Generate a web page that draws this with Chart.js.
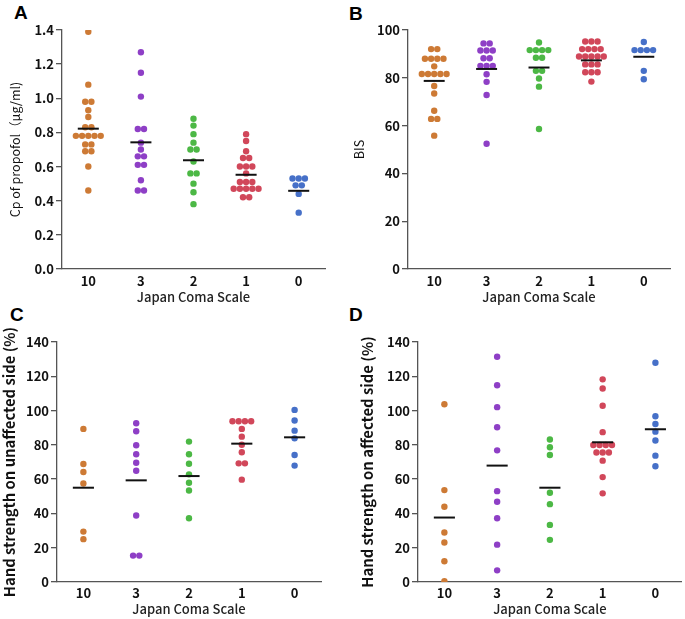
<!DOCTYPE html>
<html>
<head>
<meta charset="utf-8">
<script src="https://cdn.jsdelivr.net/npm/chart.js@4/dist/chart.umd.min.js"></script>
<style>
  body { margin: 0; background: #fff; width: 685px; height: 619px; position: relative; overflow: hidden; }
  canvas { position: absolute; }
  .tag { position: absolute; font: bold 19px "Liberation Sans", Arial, sans-serif; color: #000; line-height: 1; }
</style>
</head>
<body>
<div class="tag" style="left:14px;top:2.5px">A</div>
<div class="tag" style="left:349px;top:3.5px">B</div>
<div class="tag" style="left:10px;top:304.5px">C</div>
<div class="tag" style="left:349px;top:304.5px">D</div>
<canvas id="cpChart" width="342" height="310" style="left:0;top:0"></canvas>
<canvas id="bisChart" width="343" height="310" style="left:342px;top:0"></canvas>
<canvas id="unaffChart" width="342" height="309" style="left:0;top:310px"></canvas>
<canvas id="affChart" width="343" height="309" style="left:342px;top:310px"></canvas>
<script>
// Japan Coma Scale groups, left to right
const jcsLabels = ['10', '3', '2', '1', '0'];
const groupColors = ['#CD7A35', '#8E3FC6', '#4CB845', '#D1475A', '#4670C8'];

// A: Cp of propofol (ug/ml)
const cp10 = [1.39, 1.08, 0.98, 0.98, 0.93, 0.89, 0.83, 0.83, 0.78, 0.78, 0.78, 0.78, 0.78, 0.73, 0.73, 0.69, 0.69, 0.60, 0.46];
const cp3 = [1.27, 1.15, 1.01, 0.82, 0.82, 0.74, 0.70, 0.66, 0.66, 0.61, 0.61, 0.52, 0.46, 0.46];
const cp2 = [0.88, 0.84, 0.79, 0.74, 0.70, 0.70, 0.63, 0.56, 0.56, 0.50, 0.45, 0.38];
const cp1 = [0.79, 0.75, 0.69, 0.65, 0.65, 0.60, 0.60, 0.60, 0.56, 0.51, 0.51, 0.51, 0.47, 0.47, 0.47, 0.47, 0.47, 0.42, 0.42];
const cp0 = [0.53, 0.53, 0.53, 0.49, 0.49, 0.44, 0.33];
const cpMean = [0.822, 0.742, 0.637, 0.552, 0.458];

// B: BIS
const bis10 = [92, 92, 88, 88, 88, 88, 84.8, 81.6, 81.6, 81.6, 81.6, 81.6, 76.6, 73.4, 66.2, 62.8, 62.8, 55.8];
const bis3 = [94.4, 94.4, 91.4, 91.4, 91.4, 88.2, 88.2, 85, 85, 85, 81.5, 78.3, 72.8, 52.4];
const bis2 = [94.8, 91.6, 91.6, 91.6, 91.6, 88.4, 88.4, 82.9, 82.9, 79.7, 76.3, 58.6];
const bis1 = [95.2, 95.2, 95.2, 92, 92, 92, 92, 88.9, 88.9, 88.9, 88.9, 88.9, 85.6, 85.6, 85.6, 82.3, 82.3, 82.3, 78.4];
const bis0 = [95, 91.6, 91.6, 91.6, 91.6, 82.9, 79.4];
const bisMean = [78.7, 83.7, 84.3, 87.3, 88.8];

// C: hand strength on unaffected side (%)
const unaff10 = [89.3, 68.8, 64.2, 57.5, 29.4, 25.0];
const unaff3 = [92.6, 87.9, 79.8, 74.5, 69.6, 64.9, 38.8, 15.4, 15.4];
const unaff2 = [81.9, 74.5, 69.0, 62.8, 57.9, 53.4, 37.2];
const unaff1 = [93.8, 93.8, 93.8, 93.8, 89.3, 84.8, 80.1, 75.7, 69.2, 69.2, 59.7];
const unaff0 = [100.4, 94.2, 88.3, 83.8, 74.1, 67.9];
const unaffMean = [55.0, 59.3, 61.8, 80.7, 84.4];

// D: hand strength on affected side (%)
const aff10 = [103.7, 53.6, 43.9, 28.9, 23.0, 12.1, 0.4];
const aff3 = [131.4, 114.8, 102.0, 90.3, 76.8, 53.0, 46.8, 37.2, 21.8, 6.8];
const aff2 = [83.1, 78.6, 74.1, 52.1, 45.4, 33.3, 24.6];
const aff1 = [118.2, 112.9, 102.8, 87.4, 79.9, 79.9, 79.9, 79.9, 75.5, 75.5, 75.5, 70.8, 61.2, 51.7];
const aff0 = [127.9, 96.7, 92.2, 87.7, 82.5, 73.7, 67.5];
const affMean = [37.6, 67.9, 55.0, 81.5, 89.1];

const FONT = '"Noto Sans CJK JP", "Noto Sans", sans-serif';
const AXIS = '#555';
const DOT_STEP = 0.118;   // horizontal gap between tied dots, in category units

// put tied values side by side, centred on the group position
function swarm(values, i) {
  const counts = {};
  values.forEach(v => counts[v] = (counts[v] || 0) + 1);
  const seen = {};
  return values.map(v => {
    const n = counts[v];
    const k = seen[v] = (seen[v] || 0) + 1;
    return { x: i + (k - 1 - (n - 1) / 2) * DOT_STEP, y: v };
  });
}

// black mean bar over each group
const meanLines = {
  id: 'meanLines',
  afterDatasetsDraw(chart, args, opts) {
    const { ctx, scales: { x, y } } = chart;
    ctx.save();
    ctx.strokeStyle = '#111';
    ctx.lineWidth = 2;
    opts.means.forEach((m, i) => {
      const py = y.getPixelForValue(m);
      ctx.beginPath();
      ctx.moveTo(x.getPixelForValue(i - 0.2), py);
      ctx.lineTo(x.getPixelForValue(i + 0.2), py);
      ctx.stroke();
    });
    ctx.restore();
  }
};

function makePanel(p) {
  new Chart(document.getElementById(p.id), {
    type: 'scatter',
    data: {
      datasets: p.groups.map((vals, i) => ({
        data: swarm(vals, i),
        backgroundColor: groupColors[i],
        borderWidth: 0,
        pointRadius: 3.2,
        pointHoverRadius: 3.2
      }))
    },
    options: {
      responsive: false,
      animation: false,
      events: [],
      layout: { padding: { top: p.top, right: p.right, left: 0, bottom: 0 } },
      plugins: {
        legend: { display: false },
        tooltip: { enabled: false },
        meanLines: { means: p.means }
      },
      scales: {
        x: {
          type: 'linear',
          min: -0.5,
          max: 4.5,
          afterBuildTicks: s => { s.ticks = jcsLabels.map((l, i) => ({ value: i })); },
          afterFit: s => { s.height = p.xHeight; },
          grid: { display: false, drawTicks: false },
          border: { display: true, color: AXIS, width: 1.3 },
          ticks: {
            padding: p.tickPad,
            color: '#111',
            autoSkip: false,
            maxRotation: 0,
            font: { family: FONT, size: 13, weight: 'bold' },
            callback: v => jcsLabels[v]
          },
          title: {
            display: true,
            text: 'Japan Coma Scale',
            color: '#222',
            font: { family: FONT, size: 13, weight: '500' },
            padding: { top: 0, bottom: p.xTitlePad }
          }
        },
        y: {
          min: 0,
          max: p.max,
          afterFit: s => { s.width = p.yWidth; },
          grid: { display: true, drawOnChartArea: false, drawTicks: true, tickLength: 6, color: AXIS, lineWidth: 1.3 },
          border: { display: true, color: AXIS, width: 1.3 },
          ticks: {
            stepSize: p.step,
            padding: 2,
            color: '#111',
            font: { family: FONT, size: 13, weight: 'bold' },
            callback: v => v.toFixed(p.decimals)
          },
          title: {
            display: true,
            text: p.title,
            color: '#111',
            font: p.titleFont,
            padding: { top: p.yTitlePad, bottom: 0 }
          }
        }
      }
    },
    plugins: [meanLines]
  });
}

makePanel({
  id: 'cpChart', groups: [cp10, cp3, cp2, cp1, cp0], means: cpMean,
  max: 1.4, step: 0.2, decimals: 1,
  title: 'Cp of propofol（μg/ml)', titleFont: { family: FONT, size: 12.5, weight: 'normal' }, yTitlePad: 8,
  top: 30, right: 17, yWidth: 62, xHeight: 41, tickPad: 4, xTitlePad: 5
});
makePanel({
  id: 'bisChart', groups: [bis10, bis3, bis2, bis1, bis0], means: bisMean,
  max: 100, step: 20, decimals: 0,
  title: 'BIS', titleFont: { family: FONT, size: 12.5, weight: 'normal' }, yTitlePad: 10,
  top: 30, right: 15, yWidth: 66, xHeight: 41, tickPad: 4, xTitlePad: 5
});
makePanel({
  id: 'unaffChart', groups: [unaff10, unaff3, unaff2, unaff1, unaff0], means: unaffMean,
  max: 140, step: 20, decimals: 0,
  title: 'Hand strength on unaffected side (%)', titleFont: { family: FONT, size: 14.8, weight: 'bold' }, yTitlePad: 0,
  top: 32, right: 21, yWidth: 57, xHeight: 37, tickPad: 3, xTitlePad: 2
});
makePanel({
  id: 'affChart', groups: [aff10, aff3, aff2, aff1, aff0], means: affMean,
  max: 140, step: 20, decimals: 0,
  title: 'Hand strength on affected side (%)', titleFont: { family: FONT, size: 14.8, weight: 'bold' }, yTitlePad: 16,
  top: 32, right: 2, yWidth: 76, xHeight: 37, tickPad: 3, xTitlePad: 2
});
</script>
</body>
</html>
